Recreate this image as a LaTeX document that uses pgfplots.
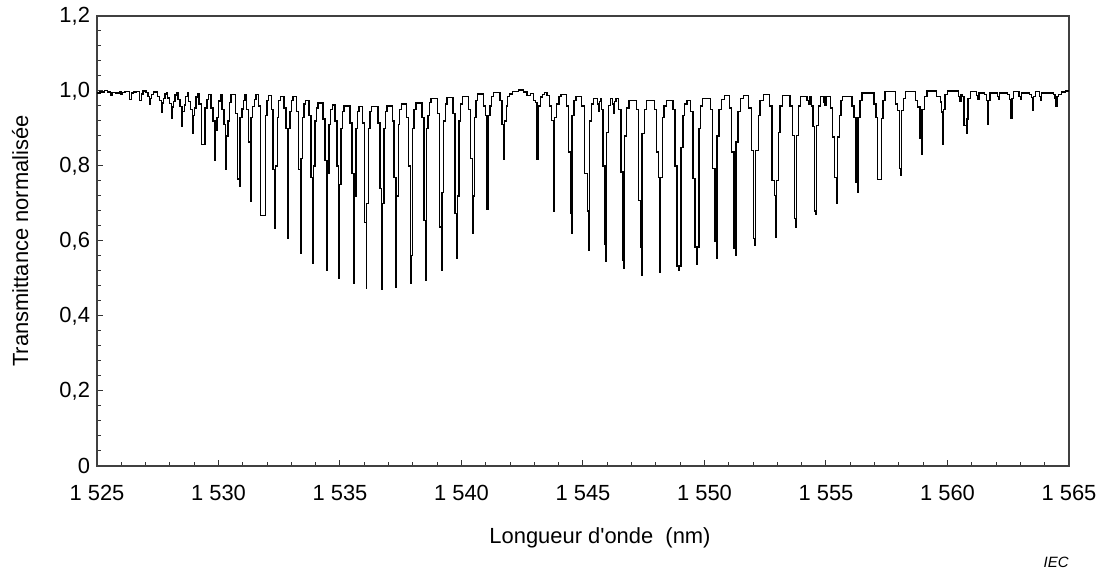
\documentclass[border=0pt]{standalone}
\usepackage{fontspec}
\setmainfont{Liberation Sans}
\usepackage{pgfplots}
\pgfplotsset{compat=1.18}

\begin{document}
\begin{tikzpicture}
% picture frame: 1 px of the reference = 0.5bp
\path[use as bounding box] (-48.5bp,-54.5bp) rectangle (503.5bp,233bp);
\begin{axis}[
  scale only axis, width=486bp, height=225bp,
  xmin=1525, xmax=1565, ymin=0, ymax=1.2,
  xtick={1525,1530,1535,1540,1545,1550,1555,1560,1565},
  xticklabels={1 525,1 530,1 535,1 540,1 545,1 550,1 555,1 560,1 565},
  ytick={0,0.2,0.4,0.6,0.8,1.0,1.2},
  yticklabels={0,{0,2},{0,4},{0,6},{0,8},{1,0},{1,2}},
  minor x tick num=4, minor y tick num=4,
  xtick pos=bottom, ytick pos=left,
  tick align=inside,
  major tick length=3bp, minor tick length=2bp,
  tick style={black!80, line width=0.5bp},
  axis line style={black!75, line width=0.6bp},
  every tick label/.append style={font=\fontsize{11}{13}\selectfont},
  xticklabel style={yshift=-6bp},
  label style={font=\fontsize{11}{13}\selectfont},
  xlabel={Longueur d\textquotesingle onde~ (nm)},
  ylabel={Transmittance normalisée},
  xlabel style={at={(axis description cs:0.5175,-0.16)}, anchor=center},
  ylabel style={at={(axis description cs:-0.079,0.5)}, anchor=center},
]
\addplot[const plot, black, line width=0.7bp] coordinates {
  (1525.00,0.995) (1525.12,0.997) (1525.30,1.002) (1525.42,0.997)
  (1525.56,0.989) (1525.62,0.996) (1525.75,0.995) (1525.92,0.997)
  (1525.99,0.990) (1526.04,0.996) (1526.15,0.998)
  (1526.33,0.978) (1526.42,0.995) (1526.50,0.997) (1526.62,0.998)
  (1526.74,0.975) (1526.82,0.992) (1526.90,1.000) (1527.02,0.996)
  (1527.10,0.985) (1527.16,0.964) (1527.19,0.980) (1527.24,0.990) (1527.32,0.997)
  (1527.49,0.985) (1527.57,0.975) (1527.65,0.944) (1527.67,0.968) (1527.74,0.980) (1527.80,0.992) (1527.87,0.996)
  (1527.90,0.981) (1527.98,0.967) (1528.06,0.926) (1528.08,0.957) (1528.15,0.972) (1528.21,0.989) (1528.28,0.996)
  (1528.34,0.977) (1528.42,0.959) (1528.50,0.906) (1528.52,0.946) (1528.59,0.963) (1528.65,0.986) (1528.72,0.995)
  (1528.77,0.972) (1528.85,0.951) (1528.93,0.886) (1528.95,0.935) (1529.02,0.955) (1529.08,0.984) (1529.15,0.992)
  (1529.20,0.965) (1529.30,0.857) (1529.44,0.955) (1529.52,0.978) (1529.60,0.991)
  (1529.69,0.955) (1529.77,0.920) (1529.85,0.815) (1529.87,0.894) (1529.94,0.930) (1530.00,0.973) (1530.07,0.990)
  (1530.14,0.950) (1530.22,0.910) (1530.30,0.791) (1530.32,0.880) (1530.39,0.920) (1530.45,0.970) (1530.52,0.990)
  (1530.71,0.940) (1530.79,0.765) (1530.865,0.747) (1530.885,0.930) (1530.96,0.952) (1531.02,0.975) (1531.09,0.990)
  (1531.16,0.950) (1531.24,0.864) (1531.315,0.706) (1531.335,0.930) (1531.41,0.958) (1531.47,0.978) (1531.54,0.990)
  (1531.64,0.960) (1531.73,0.668) (1531.93,0.935) (1532.00,0.975) (1532.06,0.988)
  (1532.17,0.950) (1532.25,0.790) (1532.33,0.635) (1532.35,0.800) (1532.42,0.930) (1532.48,0.975) (1532.55,0.986)
  (1532.69,0.955) (1532.77,0.900) (1532.84,0.606) (1532.87,0.900) (1532.94,0.945) (1533.00,0.975) (1533.07,0.985)
  (1533.21,0.945) (1533.29,0.790) (1533.37,0.566) (1533.39,0.820) (1533.46,0.930) (1533.52,0.965) (1533.59,0.975)
  (1533.72,0.935) (1533.80,0.770) (1533.88,0.541) (1533.90,0.800) (1533.97,0.920) (1534.03,0.955) (1534.10,0.968)
  (1534.30,0.925) (1534.38,0.815) (1534.46,0.522) (1534.48,0.780) (1534.55,0.910) (1534.61,0.950) (1534.68,0.963)
  (1534.79,0.920) (1534.87,0.800) (1534.95,0.500) (1534.97,0.750) (1535.04,0.900) (1535.10,0.945) (1535.17,0.960)
  (1535.41,0.915) (1535.49,0.780) (1535.57,0.486) (1535.59,0.720) (1535.66,0.900) (1535.72,0.945) (1535.79,0.958)
  (1535.92,0.915) (1536.00,0.650) (1536.08,0.475) (1536.10,0.700) (1536.17,0.900) (1536.23,0.945) (1536.30,0.958)
  (1536.56,0.915) (1536.64,0.740) (1536.72,0.471) (1536.74,0.700) (1536.81,0.900) (1536.87,0.945) (1536.94,0.960)
  (1537.15,0.920) (1537.23,0.770) (1537.31,0.477) (1537.33,0.720) (1537.40,0.910) (1537.46,0.950) (1537.53,0.965)
  (1537.74,0.930) (1537.82,0.800) (1537.90,0.486) (1537.92,0.561) (1537.99,0.900) (1538.05,0.950) (1538.12,0.968)
  (1538.37,0.930) (1538.45,0.655) (1538.53,0.495) (1538.55,0.900) (1538.62,0.935) (1538.68,0.970) (1538.75,0.980)
  (1539.01,0.940) (1539.09,0.637) (1539.17,0.522) (1539.20,0.730) (1539.27,0.920) (1539.33,0.965) (1539.40,0.982)
  (1539.65,0.940) (1539.73,0.673) (1539.81,0.555) (1539.83,0.720) (1539.90,0.920) (1539.96,0.965) (1540.03,0.985)
  (1540.29,0.950) (1540.37,0.820) (1540.45,0.621) (1540.47,0.720) (1540.54,0.930) (1540.60,0.975) (1540.67,0.992)
  (1540.91,0.960) (1540.99,0.935) (1541.05,0.684) (1541.11,0.935) (1541.18,0.960) (1541.24,0.985) (1541.31,0.996)
  (1541.59,0.975) (1541.67,0.910) (1541.75,0.817) (1541.77,0.920) (1541.84,0.960) (1541.90,0.985) (1541.97,0.992)
  (1542.10,0.998) (1542.35,1.003) (1542.55,0.997) (1542.70,0.988) (1542.85,0.993)
  (1542.97,0.975) (1543.04,0.970) (1543.10,0.818) (1543.16,0.960) (1543.25,0.984) (1543.33,0.990) (1543.42,0.996) (1543.52,0.988)
  (1543.63,0.960) (1543.71,0.922) (1543.78,0.680) (1543.83,0.930) (1543.92,0.965) (1544.01,0.985) (1544.10,0.990)
  (1544.31,0.960) (1544.41,0.837) (1544.48,0.673) (1544.52,0.621) (1544.54,0.935) (1544.63,0.975) (1544.72,0.985)
  (1544.95,0.960) (1545.07,0.780) (1545.19,0.680) (1545.235,0.575) (1545.26,0.920) (1545.35,0.965) (1545.43,0.980)
  (1545.60,0.965) (1545.64,0.945) (1545.68,0.972) (1545.72,0.980)
  (1545.76,0.950) (1545.83,0.800) (1545.91,0.590) (1545.95,0.546) (1545.97,0.890) (1546.06,0.962) (1546.14,0.980)
  (1546.22,0.965) (1546.26,0.940) (1546.30,0.972) (1546.36,0.980)
  (1546.47,0.950) (1546.57,0.784) (1546.64,0.548) (1546.68,0.528) (1546.70,0.880) (1546.80,0.955) (1546.89,0.975)
  (1547.19,0.950) (1547.29,0.708) (1547.36,0.584) (1547.40,0.509) (1547.42,0.886) (1547.52,0.950) (1547.61,0.975)
  (1547.95,0.950) (1548.03,0.837) (1548.10,0.770) (1548.14,0.540) (1548.165,0.516) (1548.185,0.770) (1548.27,0.930) (1548.34,0.960) (1548.43,0.975)
  (1548.70,0.950) (1548.78,0.800) (1548.87,0.533) (1548.94,0.522) (1548.96,0.533) (1549.03,0.850) (1549.11,0.935) (1549.18,0.965) (1549.28,0.975)
  (1549.42,0.945) (1549.52,0.766) (1549.61,0.584) (1549.665,0.537) (1549.685,0.584) (1549.77,0.900) (1549.83,0.960) (1549.92,0.980)
  (1550.25,0.950) (1550.34,0.793) (1550.44,0.600) (1550.49,0.555) (1550.51,0.880) (1550.60,0.950) (1550.69,0.978) (1550.82,0.988)
  (1551.02,0.955) (1551.11,0.837) (1551.21,0.580) (1551.27,0.562) (1551.29,0.864) (1551.38,0.945) (1551.47,0.980) (1551.60,0.988)
  (1551.82,0.955) (1551.93,0.841) (1552.02,0.606) (1552.08,0.588) (1552.10,0.841) (1552.22,0.935) (1552.29,0.975) (1552.42,0.990)
  (1552.67,0.960) (1552.77,0.761) (1552.87,0.721) (1552.94,0.609) (1552.96,0.761) (1553.05,0.890) (1553.11,0.960) (1553.22,0.988)
  (1553.52,0.960) (1553.62,0.882) (1553.71,0.660) (1553.77,0.637) (1553.79,0.882) (1553.87,0.960) (1553.95,0.985)
  (1554.22,0.975) (1554.28,0.965) (1554.34,0.985)
  (1554.41,0.960) (1554.47,0.905) (1554.53,0.680) (1554.58,0.671) (1554.60,0.908) (1554.69,0.960) (1554.78,0.985)
  (1554.92,0.970) (1554.96,0.962) (1555.00,0.985)
  (1555.19,0.955) (1555.27,0.877) (1555.35,0.770) (1555.445,0.700) (1555.465,0.877) (1555.55,0.935) (1555.61,0.975) (1555.69,0.985)
  (1556.07,0.960) (1556.15,0.930) (1556.24,0.757) (1556.30,0.731) (1556.32,0.930) (1556.40,0.975) (1556.48,0.995)
  (1556.98,0.965) (1557.06,0.930) (1557.13,0.764) (1557.29,0.926) (1557.35,0.975) (1557.42,0.998)
  (1557.85,0.965) (1557.95,0.948) (1558.03,0.793) (1558.08,0.775) (1558.10,0.948) (1558.19,0.980) (1558.28,0.998)
  (1558.69,0.975) (1558.77,0.957) (1558.87,0.873) (1558.93,0.830) (1558.95,0.950) (1559.05,0.985) (1559.15,1.000)
  (1559.55,0.985) (1559.70,0.971) (1559.76,0.944) (1559.82,0.859) (1559.84,0.950) (1559.90,0.990) (1560.00,1.000)
  (1560.45,0.985) (1560.50,0.972) (1560.55,0.990)
  (1560.62,0.985) (1560.68,0.908) (1560.77,0.886) (1560.80,0.925) (1560.85,0.980) (1560.95,0.998)
  (1561.20,0.988) (1561.25,0.977) (1561.30,0.995)
  (1561.52,0.990) (1561.60,0.975) (1561.65,0.910) (1561.69,0.975) (1561.75,0.995)
  (1562.05,0.985) (1562.10,0.979) (1562.15,0.995)
  (1562.48,0.990) (1562.56,0.978) (1562.61,0.928) (1562.65,0.980) (1562.72,0.998)
  (1562.95,0.985) (1563.00,0.979) (1563.05,0.995)
  (1563.38,0.990) (1563.46,0.982) (1563.50,0.948) (1563.54,0.985) (1563.62,0.998)
  (1563.78,0.985) (1563.83,0.975) (1563.88,0.995)
  (1564.35,0.990) (1564.43,0.980) (1564.47,0.960) (1564.51,0.985) (1564.58,0.990) (1564.70,0.997) (1564.85,1.000) (1565.00,1.000)
};
\end{axis}
\node[anchor=east, inner sep=0pt, font=\fontsize{7.5}{9}\selectfont\itshape] at ([yshift=-48bp]current axis.south east) {IEC};
\end{tikzpicture}
\end{document}
